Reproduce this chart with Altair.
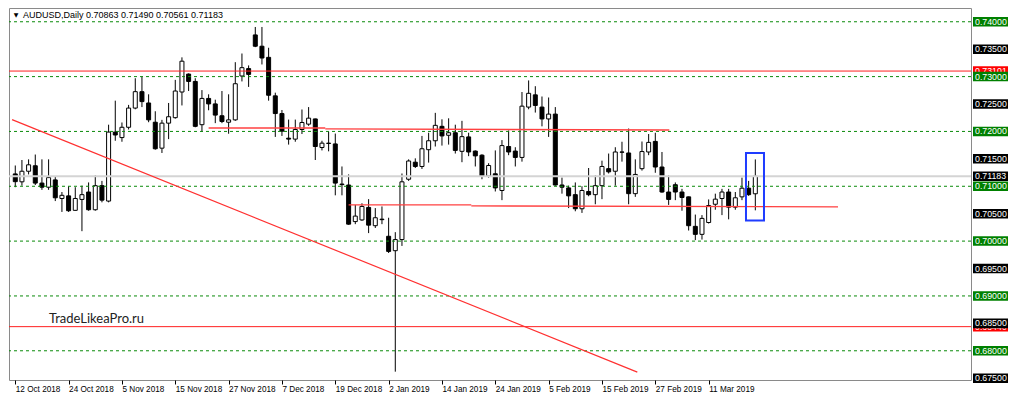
import altair as alt
import pandas as pd

# ---------------- data ----------------
tick_labels = ["12 Oct 2018", "24 Oct 2018", "5 Nov 2018", "15 Nov 2018", "27 Nov 2018",
               "7 Dec 2018", "19 Dec 2018", "2 Jan 2019", "14 Jan 2019", "24 Jan 2019",
               "5 Feb 2019", "15 Feb 2019", "27 Feb 2019", "11 Mar 2019"]

opens = [0.71225, 0.71081, 0.71274, 0.71374, 0.71058, 0.70983, 0.71116, 0.70777, 0.70825, 0.70561,
         0.70760, 0.70895, 0.70572, 0.71011, 0.70730, 0.71988, 0.71888, 0.72076, 0.72426, 0.72725,
         0.72519, 0.72168, 0.71695, 0.72151, 0.72251, 0.72719, 0.73046, 0.72912, 0.72123, 0.72602,
         0.72502, 0.72286, 0.72168, 0.72211, 0.73011, 0.73146, 0.73760, 0.73554, 0.73351, 0.72649,
         0.72326, 0.71877, 0.71860, 0.72035, 0.72133, 0.72228, 0.71707, 0.71786, 0.71772, 0.71040,
         0.71023, 0.70356, 0.70386, 0.70614, 0.70281, 0.70400, 0.70088, 0.69825, 0.70028, 0.71128,
         0.71439, 0.71361, 0.71667, 0.71830, 0.72093, 0.71930, 0.71976, 0.71637, 0.71900, 0.71642,
         0.71567, 0.71186, 0.71228, 0.70923, 0.71725, 0.71642, 0.71526, 0.72444, 0.72667, 0.72444,
         0.72228, 0.72316, 0.71023, 0.70970, 0.70847, 0.70590, 0.70905, 0.70847, 0.71011, 0.71321,
         0.71274, 0.71625, 0.71607, 0.70865, 0.71321, 0.71625, 0.71818, 0.71351, 0.70895, 0.71028,
         0.70895, 0.70807, 0.70269, 0.70123, 0.70339, 0.70672, 0.70777, 0.70895, 0.70619, 0.70807,
         0.70965, 0.70863]

highs = [0.71379, 0.71479, 0.71491, 0.71579, 0.71491, 0.71491, 0.71186, 0.70895, 0.71000, 0.70983,
         0.71011, 0.71070, 0.71198, 0.71098, 0.72123, 0.72561, 0.72163, 0.72484, 0.72970, 0.73000,
         0.72677, 0.72368, 0.72211, 0.72519, 0.72940, 0.73351, 0.73058, 0.72970, 0.72754, 0.72677,
         0.72579, 0.72737, 0.72677, 0.73263, 0.73421, 0.73204, 0.73905, 0.73905, 0.73526, 0.72707,
         0.72391, 0.72216, 0.72216, 0.72400, 0.72444, 0.72233, 0.71830, 0.71997, 0.71961, 0.71361,
         0.71216, 0.70660, 0.70690, 0.70765, 0.70602, 0.70632, 0.70426, 0.70163, 0.71233, 0.71491,
         0.71509, 0.71918, 0.71976, 0.72339, 0.72221, 0.72239, 0.72123, 0.72193, 0.71976, 0.71654,
         0.71584, 0.71421, 0.71654, 0.71842, 0.72018, 0.71712, 0.72719, 0.72930, 0.72825, 0.72637,
         0.72619, 0.72444, 0.71158, 0.71011, 0.71070, 0.71000, 0.71333, 0.71198, 0.71467, 0.71597,
         0.71712, 0.71812, 0.72053, 0.71491, 0.71816, 0.71953, 0.71976, 0.71625, 0.71198, 0.71070,
         0.70953, 0.70812, 0.70484, 0.70474, 0.70760, 0.70865, 0.70953, 0.70953, 0.70895, 0.71158,
         0.71098, 0.71490]

lows = [0.70983, 0.71011, 0.71216, 0.71023, 0.70935, 0.70935, 0.70730, 0.70532, 0.70532, 0.70554,
        0.70181, 0.70554, 0.70554, 0.70707, 0.70707, 0.71830, 0.71812, 0.72035, 0.72404, 0.72444,
        0.72168, 0.71667, 0.71607, 0.71860, 0.72233, 0.72474, 0.72737, 0.72076, 0.71993, 0.72386,
        0.72151, 0.72151, 0.71958, 0.72193, 0.72912, 0.72812, 0.73537, 0.73221, 0.72561, 0.71900,
        0.71918, 0.71760, 0.71812, 0.71953, 0.72102, 0.71479, 0.71654, 0.71637, 0.70835, 0.70835,
        0.70298, 0.70309, 0.70369, 0.70146, 0.70239, 0.70309, 0.69783, 0.67619, 0.69912, 0.71098,
        0.71333, 0.71316, 0.71432, 0.71725, 0.71742, 0.71760, 0.71597, 0.71439, 0.71549, 0.71361,
        0.71128, 0.71158, 0.70905, 0.70747, 0.71567, 0.71361, 0.71449, 0.72404, 0.72344, 0.72093,
        0.71900, 0.71011, 0.70865, 0.70602, 0.70544, 0.70514, 0.70818, 0.70672, 0.70765, 0.71233,
        0.71011, 0.71449, 0.70672, 0.70807, 0.71286, 0.71567, 0.71246, 0.70882, 0.70660, 0.70747,
        0.70554, 0.70193, 0.70018, 0.70028, 0.70321, 0.70572, 0.70474, 0.70397, 0.70572, 0.70747,
        0.70825, 0.70561]

closes = [0.71084, 0.71274, 0.71391, 0.71058, 0.70983, 0.71158, 0.70790, 0.70835, 0.70554, 0.70777,
          0.70847, 0.70572, 0.71011, 0.70747, 0.71988, 0.71935, 0.72076, 0.72426, 0.72725, 0.72544,
          0.72211, 0.71684, 0.72151, 0.72268, 0.72737, 0.73281, 0.72912, 0.72093, 0.72602, 0.72502,
          0.72298, 0.72181, 0.72211, 0.72870, 0.73163, 0.73040, 0.73554, 0.73339, 0.72660, 0.72326,
          0.72005, 0.71860, 0.72035, 0.72163, 0.72242, 0.71725, 0.71786, 0.71781, 0.71058, 0.71030,
          0.70309, 0.70456, 0.70632, 0.70291, 0.70426, 0.70391, 0.69812, 0.70028, 0.71081, 0.71461,
          0.71361, 0.71684, 0.71830, 0.72111, 0.71918, 0.71976, 0.71654, 0.71905, 0.71625, 0.71554,
          0.71186, 0.71379, 0.70970, 0.71742, 0.71625, 0.71526, 0.72461, 0.72695, 0.72474, 0.72228,
          0.72316, 0.71023, 0.70983, 0.70825, 0.70590, 0.70923, 0.70847, 0.71011, 0.71361, 0.71263,
          0.71625, 0.71621, 0.70865, 0.71216, 0.71633, 0.71800, 0.71351, 0.70895, 0.70760, 0.70895,
          0.70795, 0.70281, 0.70123, 0.70414, 0.70649, 0.70765, 0.70895, 0.70619, 0.70790, 0.70965,
          0.70847, 0.71183]

green_levels = [0.68, 0.69, 0.70, 0.71, 0.72, 0.73, 0.74]
axis_levels = [0.675, 0.685, 0.695, 0.705, 0.715, 0.725, 0.735]
red_levels = [0.73101, 0.68440]
current_price = 0.71183

# user-drawn red segments (bar index, price)
seg_x = [29.0, 46.5, 50.0, 68.4]
seg_x2 = [46.5, 98.1, 68.4, 123.4]
seg_y = [0.72063, 0.72046, 0.70660, 0.70642]
seg_y2 = [0.72063, 0.72026, 0.70660, 0.70625]
trend_x = [-0.48]
trend_x2 = [93.3]
trend_y = [0.72216]
trend_y2 = [0.67611]
box_x, box_x2, box_y, box_y2 = [109.6], [112.3], [0.71607], [0.70374]

title_text = "AUDUSD,Daily  0.70863 0.71490 0.70561 0.71183"
watermark = "TradeLikeaPro.ru"

# ---------------- chart ----------------
W, H = 962, 372
xs = alt.Scale(domain=[-0.19, 142.6], nice=False, zero=False)
ys = alt.Scale(domain=[0.67467, 0.74251], nice=False, zero=False)
FONT = "Liberation Sans"

n = len(opens)
df = pd.DataFrame({"i": list(range(n)), "open": opens, "high": highs, "low": lows, "close": closes})
df["fill"] = ["white" if c >= o else "black" for o, c in zip(opens, closes)]

label_arr = "[" + ",".join("'%s'" % s for s in tick_labels) + "]"
x_axis = alt.Axis(values=list(range(0, 8 * len(tick_labels), 8)),
                  labelExpr=label_arr + "[round(datum.value/8)]",
                  labelAlign="left", labelPadding=1, tickSize=4, tickColor="black",
                  tickWidth=1, labelFont=FONT, labelFontSize=8.2, labelColor="black",
                  grid=False, domain=False, labelOverlap=False, labelFlush=False,
                  labelBound=False, title=None, orient="bottom")

green = alt.Chart(pd.DataFrame({"p": green_levels})).mark_rule(
    color="#0a8a0a", strokeDash=[3, 3], strokeWidth=1).encode(
    y=alt.Y("p:Q", scale=ys, axis=None))

cur = alt.Chart(pd.DataFrame({"p": [current_price]})).mark_rule(
    color="#d4d4d4", strokeWidth=2).encode(y=alt.Y("p:Q", scale=ys, axis=None))

redfull = alt.Chart(pd.DataFrame({"p": red_levels})).mark_rule(
    color="#ff2020", strokeWidth=1).encode(y=alt.Y("p:Q", scale=ys, axis=None))

segs = alt.Chart(pd.DataFrame({"x": seg_x, "x2": seg_x2, "y": seg_y, "y2": seg_y2})).mark_rule(
    color="#ff4040", strokeWidth=1.3).encode(
    x=alt.X("x:Q", scale=xs, axis=x_axis), x2="x2:Q",
    y=alt.Y("y:Q", scale=ys, axis=None), y2="y2:Q")

trend = alt.Chart(pd.DataFrame({"x": trend_x, "x2": trend_x2, "y": trend_y, "y2": trend_y2})).mark_rule(
    color="#ff3030", strokeWidth=1.2, clip=True).encode(
    x=alt.X("x:Q", scale=xs, axis=x_axis), x2="x2:Q",
    y=alt.Y("y:Q", scale=ys, axis=None), y2="y2:Q")

wicks = alt.Chart(df).mark_rule(color="black", strokeWidth=1).encode(
    x=alt.X("i:Q", scale=xs, axis=x_axis),
    y=alt.Y("low:Q", scale=ys, axis=None), y2="high:Q")

bodies = alt.Chart(df).mark_bar(size=4, stroke="black", strokeWidth=1).encode(
    x=alt.X("i:Q", scale=xs, axis=x_axis),
    y=alt.Y("open:Q", scale=ys, axis=None), y2="close:Q",
    fill=alt.Fill("fill:N", scale=None))

bluebox = alt.Chart(pd.DataFrame({"x": box_x, "x2": box_x2, "y": box_y, "y2": box_y2})).mark_rect(
    filled=False, stroke="#1f3cff", strokeWidth=2).encode(
    x=alt.X("x:Q", scale=xs, axis=x_axis), x2="x2:Q",
    y=alt.Y("y:Q", scale=ys, axis=None), y2="y2:Q")

tri = alt.Chart(pd.DataFrame({"t": ["\u25bc"]})).mark_text(
    align="center", baseline="middle", font="DejaVu Sans", fontSize=6, color="black").encode(
    x=alt.value(7), y=alt.value(7), text="t:N")

title = alt.Chart(pd.DataFrame({"t": [title_text]})).mark_text(
    align="left", baseline="middle", font=FONT, fontSize=9, color="black").encode(
    x=alt.value(14), y=alt.value(7), text="t:N")

wm = alt.Chart(pd.DataFrame({"t": [watermark]})).mark_text(
    align="left", baseline="alphabetic", font="Lato", fontSize=13, color="#222222").encode(
    x=alt.value(40), y=alt.value(315), text="t:N")

HALF = 0.00087


def price_boxes(levels, bg):
    d = pd.DataFrame({"p": levels})
    d["top"] = d["p"] + HALF
    d["bot"] = d["p"] - HALF
    d["lab"] = ["%.5f" % v for v in levels]
    r = alt.Chart(d).mark_rect(color=bg).encode(
        x=alt.value(W + 2), x2=alt.value(W + 37),
        y=alt.Y("top:Q", scale=ys, axis=None), y2="bot:Q")
    t = alt.Chart(d).mark_text(align="left", baseline="middle", font=FONT, fontSize=8.8,
                               color="white").encode(
        x=alt.value(W + 4), y=alt.Y("p:Q", scale=ys, axis=None), text="lab:N")
    return [r, t]


boxes = (price_boxes(red_levels, "#ff0000") + price_boxes(green_levels, "#008000")
         + price_boxes(axis_levels, "#000000") + price_boxes([current_price], "#000000"))

chart = alt.layer(wicks, bodies, green, cur, redfull, segs, trend, bluebox, tri, title, wm,
                  *boxes).properties(
    width=W, height=H, padding={"left": 0, "top": 0, "right": 2, "bottom": 2},
    background="white"
).configure_view(stroke="#8a8a8a", strokeWidth=1)

chart.save("out.html", embed_options={"renderer": "svg", "actions": False})
